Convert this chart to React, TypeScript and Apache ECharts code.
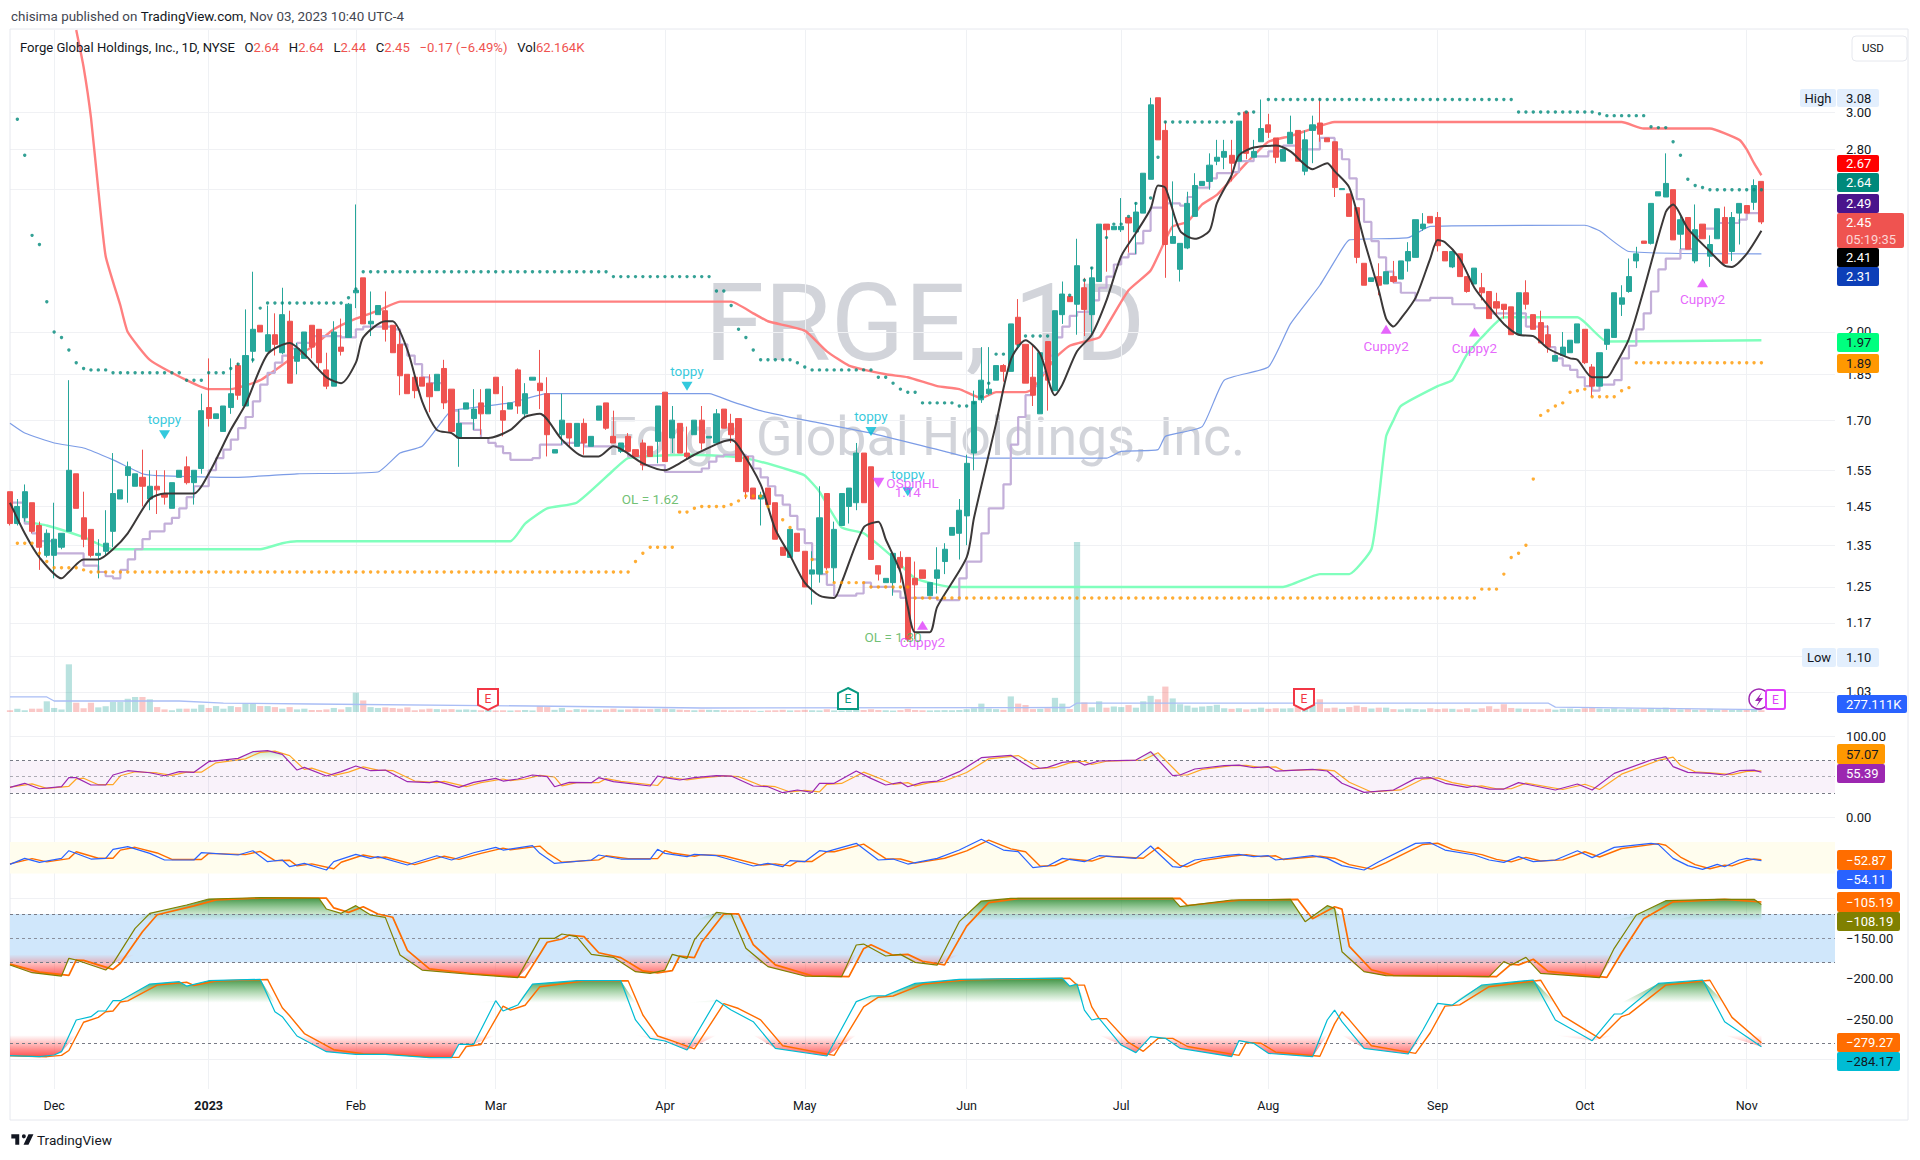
import React, { useEffect, useRef } from "react";
import * as echarts from "echarts";

// ---------- DATA ----------
// candles: [open, close, low, high], one per trading day
const candles: number[][] = [
[1.49,1.405,1.40,1.49],[1.405,1.45,1.40,1.47],[1.42,1.49,1.41,1.51],[1.46,1.385,1.38,1.46],[1.40,1.345,1.29,1.41],
[1.325,1.38,1.32,1.39],[1.325,1.365,1.27,1.46],[1.345,1.38,1.34,1.38],[1.385,1.55,1.385,1.83],[1.54,1.445,1.445,1.54],
[1.42,1.365,1.345,1.49],[1.39,1.325,1.32,1.39],[1.325,1.33,1.27,1.365],[1.335,1.355,1.325,1.44],[1.385,1.485,1.345,1.60],
[1.47,1.495,1.47,1.495],[1.535,1.56,1.46,1.575],[1.505,1.54,1.505,1.54],[1.53,1.505,1.45,1.61],[1.47,1.505,1.44,1.55],
[1.505,1.495,1.43,1.55],[1.485,1.475,1.455,1.55],[1.445,1.515,1.445,1.515],[1.53,1.55,1.53,1.55],[1.56,1.515,1.51,1.59],
[1.515,1.55,1.455,1.55],[1.555,1.73,1.54,1.785],[1.74,1.705,1.68,1.905],[1.705,1.72,1.705,1.72],[1.665,1.745,1.665,1.745],
[1.74,1.785,1.72,1.905],[1.88,1.78,1.765,1.89],[1.745,1.915,1.745,2.085],[1.93,2.01,1.89,2.235],[2.025,2.0,2.0,2.025],
[1.93,1.99,1.93,2.10],[1.99,1.955,1.915,2.07],[1.925,2.065,1.92,2.17],[2.04,1.82,1.82,2.08],[1.895,1.94,1.85,1.96],
[1.905,2.0,1.905,2.0],[2.025,1.945,1.905,2.025],[2.01,1.89,1.87,2.01],[1.865,1.81,1.80,1.925],[1.81,2.0,1.81,2.04],
[1.945,1.93,1.915,2.05],[1.98,2.105,1.98,2.11],[2.15,2.16,2.09,2.53],[2.21,2.03,2.03,2.21],[2.03,2.04,1.985,2.155],
[2.065,2.10,2.065,2.10],[2.08,2.01,1.965,2.155],[2.025,1.925,1.925,2.025],[1.955,1.845,1.78,2.01],[1.85,1.785,1.785,1.85],
[1.84,1.795,1.77,1.84],[1.84,1.81,1.81,1.84],[1.82,1.775,1.725,1.85],[1.795,1.85,1.795,1.85],[1.87,1.755,1.735,1.90],
[1.80,1.665,1.66,1.80],[1.645,1.69,1.56,1.735],[1.735,1.755,1.735,1.755],[1.705,1.735,1.67,1.80],[1.755,1.72,1.655,1.80],
[1.72,1.80,1.72,1.80],[1.84,1.785,1.785,1.84],[1.73,1.70,1.65,1.81],[1.735,1.755,1.735,1.755],[1.865,1.745,1.72,1.87],
[1.72,1.785,1.705,1.82],[1.83,1.84,1.83,1.84],[1.82,1.795,1.735,1.935],[1.785,1.655,1.59,1.84],[1.60,1.61,1.60,1.61],
[1.655,1.70,1.625,1.785],[1.69,1.645,1.62,1.69],[1.62,1.69,1.62,1.69],[1.69,1.63,1.595,1.705],[1.62,1.65,1.62,1.65],
[1.70,1.745,1.70,1.745],[1.755,1.675,1.67,1.755],[1.65,1.63,1.63,1.73],[1.605,1.63,1.60,1.63],[1.65,1.605,1.60,1.66],
[1.61,1.59,1.59,1.61],[1.63,1.565,1.55,1.64],[1.62,1.59,1.59,1.62],[1.635,1.745,1.57,1.745],[1.79,1.575,1.575,1.79],
[1.645,1.70,1.60,1.745],[1.69,1.60,1.60,1.69],[1.60,1.59,1.58,1.68],[1.655,1.70,1.655,1.70],[1.70,1.63,1.61,1.745],
[1.645,1.65,1.645,1.65],[1.63,1.72,1.63,1.735],[1.735,1.675,1.675,1.735],[1.69,1.655,1.63,1.72],[1.705,1.575,1.575,1.705],
[1.59,1.49,1.47,1.59],[1.50,1.47,1.47,1.50],[1.47,1.48,1.40,1.49],[1.50,1.455,1.45,1.50],[1.46,1.365,1.365,1.46],
[1.345,1.325,1.325,1.345],[1.32,1.39,1.32,1.39],[1.38,1.335,1.335,1.38],[1.335,1.25,1.25,1.335],[1.28,1.29,1.21,1.335],
[1.28,1.42,1.26,1.505],[1.485,1.295,1.29,1.485],[1.295,1.39,1.26,1.41],[1.40,1.485,1.40,1.485],[1.45,1.50,1.405,1.50],
[1.46,1.60,1.44,1.63],[1.60,1.46,1.46,1.60],[1.56,1.315,1.315,1.56],[1.30,1.28,1.265,1.30],[1.26,1.27,1.26,1.27],
[1.26,1.33,1.23,1.33],[1.32,1.295,1.26,1.335],[1.32,1.135,1.13,1.32],[1.27,1.255,1.135,1.31],[1.29,1.27,1.27,1.29],
[1.23,1.26,1.23,1.26],[1.27,1.29,1.235,1.345],[1.31,1.34,1.28,1.355],[1.375,1.395,1.375,1.395],[1.38,1.44,1.315,1.47],
[1.425,1.57,1.35,1.595],[1.60,1.76,1.55,1.795],[1.765,1.83,1.755,1.945],[1.785,1.80,1.78,1.945],[1.83,1.88,1.83,1.88],
[1.88,1.86,1.825,1.885],[1.86,2.03,1.86,2.03],[2.055,1.955,1.94,2.125],[1.955,1.82,1.82,1.955],[1.84,1.78,1.745,1.955],
[1.72,1.925,1.72,1.925],[1.965,1.83,1.73,1.965],[1.795,2.08,1.795,2.08],[2.065,2.145,2.03,2.195],[2.135,2.115,2.115,2.135],
[2.105,2.26,1.99,2.375],[2.17,2.085,1.985,2.21],[2.065,2.21,1.985,2.255],[2.195,2.44,2.195,2.44],[2.44,2.415,2.235,2.44],
[2.415,2.43,2.415,2.43],[2.415,2.43,2.405,2.56],[2.47,2.445,2.315,2.47],[2.405,2.495,2.31,2.54],[2.49,2.68,2.49,2.68],
[2.65,3.04,2.65,3.08],[3.08,2.85,2.85,3.08],[2.90,2.35,2.21,2.95],[2.355,2.385,2.355,2.64],[2.245,2.355,2.195,2.355],
[2.335,2.535,2.33,2.59],[2.475,2.62,2.475,2.68],[2.62,2.64,2.62,2.64],[2.64,2.72,2.60,2.78],[2.74,2.76,2.72,2.85],
[2.76,2.79,2.70,2.85],[2.77,2.73,2.64,2.85],[2.74,2.95,2.74,2.95],[3.00,2.78,2.75,3.00],[2.76,2.79,2.76,2.85],
[2.84,2.91,2.84,3.07],[2.93,2.89,2.86,2.99],[2.86,2.76,2.73,2.86],[2.74,2.80,2.74,2.80],[2.83,2.89,2.83,2.98],
[2.90,2.74,2.74,2.90],[2.69,2.85,2.67,2.90],[2.90,2.93,2.73,2.98],[2.94,2.88,2.84,3.08],[2.86,2.84,2.84,2.86],
[2.84,2.61,2.565,2.84],[2.60,2.605,2.60,2.605],[2.58,2.475,2.475,2.58],[2.515,2.295,2.27,2.515],[2.27,2.18,2.18,2.27],
[2.195,2.21,2.195,2.21],[2.215,2.18,2.14,2.27],[2.185,2.235,2.185,2.235],[2.215,2.195,2.19,2.28],[2.205,2.28,2.205,2.28],
[2.28,2.32,2.235,2.36],[2.295,2.46,2.295,2.46],[2.42,2.44,2.41,2.49],[2.475,2.445,2.445,2.475],[2.47,2.345,2.32,2.495],
[2.32,2.28,2.28,2.32],[2.255,2.32,2.25,2.32],[2.31,2.215,2.215,2.31],[2.215,2.155,2.15,2.215],[2.185,2.25,2.185,2.25],
[2.17,2.15,2.12,2.23],[2.155,2.05,2.05,2.155],[2.115,2.09,2.06,2.15],[2.105,2.085,2.05,2.105],[2.095,1.99,1.99,2.095],
[1.99,2.15,1.99,2.15],[2.15,2.105,2.085,2.20],[2.065,2.01,2.01,2.065],[2.035,1.96,1.96,2.08],[1.99,1.945,1.925,2.025],
[1.895,1.915,1.895,1.915],[1.915,1.945,1.915,2.0],[1.925,1.97,1.925,1.97],[1.96,2.03,1.96,2.03],[2.01,1.89,1.885,2.01],
[1.875,1.81,1.775,1.885],[1.81,1.925,1.81,1.925],[1.955,2.01,1.935,2.01],[1.98,2.15,1.98,2.15],[2.105,2.13,2.06,2.18],
[2.155,2.215,2.15,2.29],[2.28,2.31,2.25,2.34],[2.365,2.355,2.355,2.365],[2.355,2.535,2.35,2.535],[2.57,2.59,2.57,2.59],
[2.565,2.63,2.565,2.78],[2.60,2.37,2.37,2.60],[2.395,2.46,2.33,2.475],[2.47,2.33,2.33,2.47],[2.28,2.415,2.27,2.53],
[2.44,2.375,2.375,2.44],[2.30,2.35,2.255,2.39],[2.375,2.51,2.375,2.51],[2.47,2.27,2.27,2.52],[2.32,2.47,2.28,2.495],
[2.49,2.535,2.35,2.535],[2.525,2.49,2.49,2.525],[2.54,2.62,2.505,2.65],[2.64,2.45,2.44,2.64],
];

// volume in thousands, one per trading day
const volumes: number[] = [
60,115,60,115,115,370,140,90,1650,320,130,320,160,200,345,345,460,520,520,440,170,90,60,115,115,115,250,140,205,115,205,170,300,300,205,205,170,115,170,90,115,70,70,90,140,90,170,670,400,170,140,160,140,115,160,60,90,115,
100,90,100,80,90,75,60,70,55,60,50,60,70,55,205,170,75,140,60,100,90,80,75,90,115,80,90,115,90,100,110,115,100,80,70,60,80,75,70,65,55,60,60,50,40,55,60,75,55,60,75,60,55,95,55,50,60,85,70,95,70,60,50,65,110,70,60,55,60,65,60,70,95,
130,290,120,100,80,540,290,240,100,110,130,490,290,100,5880,330,160,370,150,190,170,240,150,370,560,440,880,470,270,220,150,190,210,250,130,110,130,90,110,150,110,
130,120,130,220,260,300,440,130,150,110,170,220,170,120,150,150,100,90,120,100,90,130,100,120,110,90,130,90,130,200,110,270,140,120,110,100,90,110,80,110,120,100,130,150,120,110,130,90,120,100,110,140,100,150,110,90,110,80,90,110,80,90,70,80,90,80,62,
];
const volumeMaPts = [[0,520],[5,520],[6,380],[23,380],[29,310],[41,277],[71,208],[94,138],[144,155],[145,310],[209,310],[210,170],[238,85]];

// moving averages: [trading-day index, price]
const redMaPts = [[9,3.49],[10,3.26],[11,2.97],[12,2.60],[13,2.30],[15,2.10],[16,2.00],[19,1.90],[24,1.83],[27,1.80],[30,1.80],[34,1.83],[38,1.90],[41,1.945],[44,2.01],[47,2.05],[50,2.08],[53,2.115],[98,2.115],[101,2.07],[103,2.04],[108,2.005],[111,1.93],[114,1.88],[119,1.85],[122,1.84],[126,1.81],[129,1.80],[132,1.77],[134,1.79],[138,1.79],[139,1.80],[142,1.905],[144,1.95],[148,1.98],[149,2.02],[152,2.16],[155,2.24],[157,2.37],[158,2.43],[160,2.45],[162,2.53],[164,2.575],[166,2.65],[168,2.73],[171,2.84],[174,2.87],[177,2.91],[180,2.945],[219,2.945],[222,2.91],[231,2.91],[235,2.85],[236,2.80],[237,2.73],[238,2.67]];
const blueMaPts = [[0,1.69],[2,1.66],[6,1.63],[10,1.615],[14,1.58],[18,1.54],[20,1.535],[31,1.53],[39,1.54],[50,1.545],[53,1.60],[56,1.62],[59,1.705],[60,1.73],[68,1.755],[73,1.785],[95,1.785],[98,1.76],[102,1.73],[108,1.70],[117,1.66],[127,1.605],[131,1.585],[149,1.585],[151,1.605],[156,1.61],[157,1.65],[162,1.68],[165,1.83],[171,1.875],[174,2.03],[178,2.18],[181,2.33],[182,2.37],[190,2.38],[193,2.43],[214,2.435],[216,2.41],[220,2.32],[238,2.31]];
const mintMaPts = [[2,1.41],[5,1.40],[10,1.37],[14,1.34],[34,1.34],[37,1.355],[39,1.36],[68,1.36],[70,1.405],[73,1.445],[77,1.46],[82,1.55],[84,1.585],[92,1.595],[98,1.59],[101,1.58],[106,1.55],[108,1.535],[110,1.49],[113,1.395],[116,1.38],[120,1.32],[123,1.27],[128,1.25],[173,1.25],[178,1.28],[182,1.28],[185,1.34],[186,1.47],[187,1.65],[188,1.70],[189,1.745],[194,1.81],[196,1.83],[198,1.92],[200,1.98],[203,2.055],[213,2.055],[217,1.965],[238,1.97]];
const blackPts = [[0,1.46],[2,1.38],[4,1.32],[7,1.27],[8,1.285],[10,1.315],[12,1.315],[14,1.34],[16,1.38],[19,1.47],[21,1.485],[25,1.485],[27,1.54],[30,1.67],[32,1.75],[35,1.92],[38,1.96],[40,1.92],[43,1.84],[45,1.82],[47,1.89],[48,1.98],[51,2.04],[52,2.04],[54,1.935],[56,1.76],[58,1.67],[60,1.66],[61,1.645],[65,1.645],[68,1.67],[70,1.71],[72,1.72],[75,1.64],[78,1.59],[80,1.59],[82,1.62],[86,1.57],[89,1.55],[91,1.57],[93,1.595],[98,1.64],[99,1.62],[102,1.51],[104,1.39],[106,1.325],[108,1.26],[110,1.23],[112,1.225],[113,1.26],[116,1.395],[118,1.41],[119,1.365],[121,1.285],[122,1.205],[123,1.15],[125,1.15],[126,1.205],[130,1.32],[131,1.42],[134,1.69],[136,1.90],[138,1.97],[140,1.92],[142,1.78],[143,1.815],[145,1.93],[147,1.99],[149,2.12],[151,2.30],[153,2.40],[155,2.51],[156,2.62],[157,2.61],[159,2.41],[161,2.375],[163,2.41],[164,2.535],[166,2.67],[167,2.77],[169,2.81],[172,2.82],[174,2.79],[177,2.70],[179,2.73],[180,2.69],[182,2.61],[184,2.37],[186,2.16],[187,2.05],[188,2.02],[189,2.05],[191,2.13],[193,2.29],[194,2.37],[195,2.36],[197,2.29],[199,2.17],[201,2.095],[203,2.03],[205,1.99],[207,1.985],[209,1.94],[212,1.905],[213,1.90],[215,1.84],[217,1.84],[218,1.875],[220,1.975],[222,2.16],[225,2.495],[226,2.53],[228,2.42],[231,2.32],[233,2.26],[234,2.255],[236,2.31],[238,2.41]];
const lilacPts = [[0,1.46],[2,1.405],[3,1.38],[4,1.36],[6,1.33],[10,1.30],[12,1.285],[13,1.275],[14,1.27],[15,1.29],[16,1.315],[17,1.34],[18,1.365],[19,1.385],[21,1.405],[22,1.42],[23,1.445],[24,1.475],[25,1.505],[27,1.55],[28,1.585],[29,1.61],[30,1.64],[31,1.675],[32,1.71],[33,1.76],[34,1.815],[35,1.855],[36,1.89],[37,1.915],[38,1.94],[39,1.96],[41,1.985],[45,1.98],[47,2.01],[48,2.02],[52,2.01],[53,1.955],[54,1.915],[55,1.885],[56,1.84],[57,1.82],[59,1.76],[60,1.73],[61,1.69],[63,1.67],[64,1.645],[65,1.63],[66,1.62],[67,1.60],[68,1.58],[71,1.585],[72,1.625],[75,1.63],[78,1.62],[84,1.59],[86,1.565],[89,1.545],[94,1.555],[95,1.575],[96,1.59],[97,1.595],[100,1.59],[101,1.555],[102,1.53],[103,1.505],[104,1.48],[105,1.455],[106,1.425],[107,1.39],[108,1.355],[109,1.315],[110,1.28],[111,1.255],[112,1.23],[115,1.235],[116,1.26],[117,1.25],[120,1.24],[121,1.225],[126,1.22],[129,1.27],[130,1.31],[132,1.38],[133,1.445],[135,1.51],[136,1.625],[137,1.71],[138,1.78],[139,1.81],[140,1.855],[141,1.915],[142,1.98],[143,2.02],[144,2.06],[145,2.075],[147,2.12],[148,2.17],[149,2.215],[150,2.265],[151,2.295],[152,2.31],[153,2.355],[154,2.41],[155,2.515],[157,2.535],[159,2.525],[160,2.565],[161,2.61],[163,2.655],[164,2.68],[166,2.685],[167,2.74],[169,2.765],[171,2.79],[173,2.82],[175,2.80],[178,2.86],[180,2.80],[181,2.75],[182,2.655],[183,2.555],[184,2.45],[185,2.365],[186,2.295],[187,2.235],[188,2.19],[189,2.15],[191,2.12],[193,2.13],[194,2.13],[196,2.105],[199,2.09],[201,2.07],[205,2.07],[206,2.02],[209,1.945],[210,1.905],[211,1.88],[212,1.865],[213,1.84],[214,1.81],[215,1.795],[216,1.815],[218,1.83],[219,1.905],[220,1.95],[221,2.01],[222,2.07],[223,2.155],[224,2.245],[225,2.29],[227,2.33],[229,2.385],[230,2.42],[232,2.445],[235,2.46],[236,2.49],[238,2.49]];

// stop dots: [first day, last day, price]
const tealRuns = [[1,1,2.96],[2,2,2.77],[3,3,2.39],[4,4,2.35],[5,5,2.115],[6,6,2.00],[7,7,1.98],[8,8,1.935],[9,9,1.89],[10,10,1.87],[11,13,1.865],[14,23,1.855],[24,26,1.83],[27,29,1.855],[30,30,1.87],[31,31,1.885],[33,33,1.90],[34,34,2.09],[35,45,2.11],[46,46,2.13],[47,47,2.165],[48,81,2.235],[82,95,2.215],[96,97,2.157],[98,98,2.10],[99,99,2.01],[100,100,1.98],[101,101,1.935],[102,106,1.90],[107,107,1.89],[108,108,1.875],[109,117,1.865],[118,119,1.84],[120,120,1.82],[121,121,1.80],[122,123,1.79],[124,128,1.755],[129,130,1.745],[131,131,1.755],[132,132,1.775],[133,133,1.82],[134,135,1.92],[137,137,1.95],[138,141,1.985],[144,144,2.14],[146,146,2.20],[147,147,2.25],[149,149,2.38],[150,151,2.44],[152,152,2.475],[153,153,2.535],[155,155,2.56],[156,156,2.76],[157,166,2.945],[167,167,2.99],[168,169,3.00],[171,204,3.07],[205,215,3.00],[216,216,2.99],[217,222,2.98],[223,223,2.92],[224,225,2.915],[226,226,2.84],[227,227,2.77],[228,228,2.65],[229,229,2.62],[230,230,2.61],[231,238,2.60]];
const orangeRuns = [[1,3,1.355],[4,4,1.33],[5,5,1.31],[6,9,1.295],[10,10,1.29],[11,84,1.285],[85,85,1.31],[86,86,1.33],[87,90,1.345],[91,92,1.435],[93,93,1.445],[94,97,1.45],[98,98,1.455],[99,99,1.465],[100,102,1.478],[103,103,1.45],[105,105,1.415],[106,106,1.395],[109,109,1.315],[111,111,1.285],[112,116,1.26],[117,122,1.25],[123,199,1.225],[200,202,1.245],[203,203,1.28],[204,204,1.32],[205,205,1.33],[206,206,1.35],[207,207,1.525],[208,208,1.715],[209,209,1.73],[210,210,1.745],[211,211,1.755],[212,212,1.79],[213,213,1.795],[214,214,1.80],[215,218,1.775],[219,219,1.795],[220,220,1.805],[221,238,1.89]];

// lower panes: [trading-day index, value]
const rsiPts = [[0,36.7],[2,41.7],[4,35],[7,37.5],[8,48.7],[9,48.7],[11,39.6],[13,39.6],[14,52],[16,57.3],[19,54.8],[21,51.1],[23,56.1],[25,55.3],[27,68.5],[31,72.6],[33,80.8],[35,82.1],[37,77.5],[39,58.1],[40,61.4],[43,50.7],[45,56.1],[47,63.1],[49,57.3],[51,58.1],[54,43.7],[57,42.5],[58,44.5],[61,36.7],[63,42.9],[66,47.8],[67,44.5],[69,47],[71,52],[73,49.9],[74,37.5],[76,42.9],[79,42.5],[80,48.7],[82,43.7],[87,38.4],[88,50.7],[89,48.7],[91,45.8],[93,48.7],[96,51.1],[98,50.7],[101,38.4],[103,37.5],[105,30.1],[107,33.4],[109,30.5],[110,41.7],[112,41.7],[115,56.9],[117,47.8],[119,39.6],[121,42.9],[122,37.5],[124,42.9],[126,44.5],[129,56.1],[132,73.4],[136,76.3],[139,59.4],[141,61.4],[143,67.6],[145,69.3],[146,64.3],[148,69.3],[153,70.5],[155,80.8],[158,51.1],[159,52],[161,59.4],[165,63.5],[167,64.3],[169,61],[171,62.3],[172,56.9],[177,59],[179,56.9],[181,41.7],[184,30.5],[188,33.4],[191,47.8],[193,48.7],[195,41.7],[198,36.7],[199,38.4],[201,34.6],[203,34.6],[205,42.5],[210,33.4],[213,40.8],[215,33.4],[218,54],[223,70.5],[225,74.7],[226,62.3],[228,55.3],[231,54],[233,52],[235,57.3],[237,58.1],[238,55.39]];
const rsiMaPts = [[0,37],[3,41],[5,35.5],[8,38],[9,47],[10,48],[12,40],[14,40],[15,51],[17,56],[20,54.5],[22,51.5],[24,55.5],[26,55.5],[28,67],[32,72],[34,80],[36,81.5],[38,76],[40,59],[41,60.5],[44,51.5],[46,55.5],[48,62],[50,58],[52,57.5],[55,44.5],[58,42.5],[59,44],[62,37.5],[64,42.5],[67,47],[68,45],[70,47],[72,51.5],[74,49.5],[75,38.5],[77,42.5],[80,42.5],[81,47.5],[83,44],[88,39],[89,49.5],[90,48.5],[92,46],[94,48.5],[97,51],[99,50],[102,39],[104,37.5],[106,31],[108,33],[110,31],[111,40.5],[113,41.5],[116,55.5],[118,48.5],[120,40.5],[122,42.5],[123,38.5],[125,42.5],[127,44.5],[130,55],[133,72],[137,76],[140,60],[142,61],[144,67],[146,69],[147,65],[149,69],[154,70.5],[156,79.5],[159,52],[160,52],[162,59],[166,63.5],[168,64],[170,61],[172,62],[173,57.5],[178,59],[180,57],[182,43],[185,31],[189,33.5],[192,47],[194,48.5],[196,42.5],[199,37.5],[200,38.5],[202,35],[204,35],[206,42],[211,34],[214,40.5],[216,34],[219,53],[224,70],[226,74],[227,64],[229,56],[232,54],[234,52.5],[236,56.5],[238,57.07]];
const wprPts = [[0,-58.6],[2,-51.2],[4,-56.1],[7,-51.2],[8,-41.7],[11,-52],[13,-51.2],[14,-40],[16,-36.7],[19,-45],[21,-53.2],[25,-53.2],[26,-44.2],[31,-47],[33,-41.7],[35,-55.3],[37,-53.2],[38,-61.5],[40,-57.4],[43,-65.6],[44,-55.3],[47,-46.2],[49,-51.2],[50,-49.1],[54,-59.4],[58,-47.9],[60,-53.2],[63,-44.2],[66,-37.6],[67,-40.9],[71,-35.5],[72,-45],[74,-57.4],[79,-53.2],[80,-47],[83,-52],[87,-52],[88,-40],[89,-45],[92,-49.1],[93,-46.2],[96,-47.9],[101,-60.6],[103,-57.4],[105,-61.5],[106,-54],[108,-55.3],[110,-41.7],[111,-42.9],[115,-32.6],[118,-53.2],[120,-52],[122,-58.2],[126,-51.2],[129,-40.9],[132,-27.6],[135,-40.9],[137,-42.9],[139,-62.7],[141,-60.6],[143,-51.2],[146,-55.3],[148,-47.9],[153,-51.2],[155,-35.9],[158,-61.5],[159,-62.3],[161,-53.2],[165,-47.9],[167,-46.2],[169,-49.1],[171,-47.9],[172,-53.2],[177,-47.9],[179,-51.2],[181,-60.2],[184,-65.6],[186,-55.3],[191,-32.6],[193,-31.8],[195,-40.9],[199,-47],[201,-53.2],[203,-56.1],[205,-49.1],[207,-55.3],[210,-53.2],[213,-41.7],[215,-50.3],[218,-37.6],[223,-32.6],[224,-33.8],[226,-51.2],[228,-60.2],[230,-64.8],[232,-58.6],[233,-61.5],[235,-53.2],[236,-51.2],[238,-54.11]];
const wprMaPts = [[0,-58],[3,-51.5],[5,-55.5],[8,-51.5],[9,-43],[12,-51],[14,-51],[15,-41],[17,-37.5],[20,-44.5],[22,-52.5],[26,-52.5],[27,-45],[32,-46.5],[34,-42.5],[36,-54],[38,-53.5],[39,-60.5],[41,-58],[44,-64],[45,-56],[48,-47],[50,-50.5],[51,-49.5],[55,-59],[59,-48.5],[61,-52.5],[64,-45],[67,-38.5],[68,-40.5],[72,-36],[73,-44],[75,-56],[80,-53],[81,-48],[84,-51.5],[88,-51.5],[89,-41.5],[90,-44.5],[93,-48.5],[94,-46.5],[97,-48],[102,-59.5],[104,-58],[106,-60.5],[107,-55],[109,-55],[111,-43],[112,-43],[116,-33.5],[119,-51.5],[121,-52],[123,-57],[127,-51],[130,-42],[133,-28.5],[136,-39.5],[138,-43],[140,-61],[142,-60],[144,-52],[147,-54.5],[149,-48.5],[154,-51],[156,-37.5],[159,-60],[160,-61.5],[162,-54],[166,-48.5],[168,-46.5],[170,-49],[172,-48],[173,-52.5],[178,-48.5],[180,-51],[182,-59],[185,-64.5],[187,-56.5],[192,-34],[194,-32.5],[196,-40],[200,-46.5],[202,-52.5],[204,-55.5],[206,-50],[208,-54.5],[211,-53],[214,-43],[216,-49.5],[219,-39],[224,-33],[225,-35],[227,-49.5],[229,-59],[231,-64],[233,-59.5],[234,-60.5],[236,-54],[237,-52],[238,-52.87]];
const oliveBandPts = [[0,-183.2],[3,-192.7],[7,-196.8],[8,-174.9],[9,-177],[13,-189.4],[14,-181.1],[17,-137.8],[19,-119.2],[24,-108.9],[27,-101.5],[34,-99.8],[42,-100.7],[43,-113.9],[45,-119.2],[47,-109.7],[49,-121.3],[51,-124.2],[53,-170.8],[56,-189.4],[62,-194.3],[69,-198.8],[72,-150.2],[74,-150.2],[75,-144.8],[77,-148.1],[79,-170],[82,-173.7],[85,-191.4],[87,-193.5],[89,-189.4],[90,-170],[92,-174.9],[93,-152.2],[96,-118],[98,-120],[100,-162.5],[103,-185.2],[108,-196.8],[113,-197.6],[115,-158.4],[116,-157.2],[119,-172],[121,-170],[123,-179.9],[126,-183.2],[129,-129.5],[132,-104],[136,-100.7],[158,-100.7],[159,-111],[166,-102.7],[174,-101.9],[176,-129.5],[179,-109.7],[180,-113],[181,-166.7],[184,-191.4],[187,-196.4],[201,-197.6],[203,-179],[204,-183.2],[206,-173.7],[208,-193.5],[216,-198.8],[218,-162.5],[221,-121.3],[225,-103.6],[232,-101.9],[237,-101.9],[238,-108.19]];
const oliveMaPts = [[0,-182],[4,-192],[8,-196],[9,-177],[10,-177.5],[14,-188.5],[15,-181],[18,-142],[20,-121],[25,-110],[28,-102.5],[35,-100],[43,-100.5],[44,-112.5],[46,-118],[48,-111],[50,-120],[52,-124],[54,-165],[57,-188],[63,-194],[70,-198.5],[73,-155],[75,-151],[76,-146],[78,-148],[80,-168],[83,-174],[86,-190.5],[88,-193],[90,-190],[91,-172],[93,-174],[94,-155],[97,-120],[99,-120],[101,-158],[104,-183],[109,-196.5],[114,-197.5],[116,-163],[117,-158],[120,-171],[122,-170],[124,-178.5],[127,-183],[130,-135],[133,-106],[137,-101],[159,-100.7],[160,-109.5],[167,-103],[175,-102],[177,-126],[180,-111],[181,-114],[182,-160],[185,-189],[188,-196],[202,-197.5],[204,-182],[205,-183],[207,-176],[209,-191],[217,-198.5],[219,-168],[222,-126],[226,-105],[233,-102],[238,-105.19]];
const cyanPts = [[0,-295.4],[4,-296.6],[6,-294.5],[7,-290.4],[9,-251.2],[11,-247.1],[12,-240.1],[13,-240.1],[14,-227.3],[15,-227.3],[19,-206.7],[23,-203.8],[24,-209.2],[27,-202.6],[34,-200.9],[36,-240.9],[37,-247.1],[39,-271],[43,-290.4],[47,-293.7],[51,-293.7],[57,-297.8],[60,-297.8],[61,-281.3],[63,-281.3],[66,-227.3],[67,-240.1],[69,-232.7],[71,-206.7],[77,-202.6],[83,-202.6],[85,-251.2],[87,-273.9],[89,-277.2],[92,-288.4],[96,-226.5],[98,-238.9],[101,-253.3],[104,-286.3],[111,-295.8],[115,-228.5],[117,-221.5],[119,-221.1],[123,-205.9],[129,-200.9],[143,-199.3],[144,-209.2],[145,-206.7],[146,-238.9],[147,-251.2],[148,-249.2],[151,-282.2],[153,-291.6],[155,-271.8],[157,-273.9],[159,-286.3],[166,-296.6],[167,-276.8],[169,-280.1],[171,-292.5],[177,-296.6],[179,-251.2],[180,-238.9],[181,-253.3],[184,-286.3],[190,-293.3],[192,-263.6],[194,-230.6],[196,-232.7],[200,-207.9],[207,-201.7],[210,-251.2],[215,-276.8],[218,-243.8],[219,-243.8],[224,-205.9],[230,-201.7],[233,-253.3],[238,-284.17]];
const cyanMaPts = [[0,-295.4],[5,-296.6],[7,-295],[8,-289],[10,-254],[12,-248],[13,-241],[14,-240],[15,-229],[16,-227.5],[20,-208],[24,-204.5],[25,-208.5],[28,-203],[35,-201],[37,-236],[38,-246],[40,-268],[44,-288],[48,-293],[52,-293.7],[58,-297.5],[61,-297.5],[62,-284],[64,-281.5],[67,-234],[68,-239],[70,-233],[72,-210],[78,-203],[84,-202.6],[86,-245],[88,-271],[90,-277],[93,-287],[97,-231],[99,-237],[102,-251],[105,-283],[112,-295],[116,-235],[118,-223],[120,-221.5],[124,-207],[130,-201.5],[144,-199.5],[145,-208],[146,-208],[147,-235],[148,-249.5],[149,-249.5],[152,-279],[154,-290],[156,-274],[158,-274],[160,-284],[167,-295],[168,-279],[170,-280],[172,-291],[178,-296],[180,-256],[181,-241],[182,-251],[185,-283],[191,-292.5],[193,-267],[195,-234],[197,-232.5],[201,-210],[208,-202],[211,-246],[216,-274],[219,-247],[220,-244],[225,-208],[231,-202],[234,-248],[238,-279.27]];

// axis ticks
const monthTicks: [number, string][] = [[6,"Dec"],[27,"2023"],[47,"Feb"],[66,"Mar"],[89,"Apr"],[108,"May"],[130,"Jun"],[151,"Jul"],[171,"Aug"],[194,"Sep"],[214,"Oct"],[236,"Nov"]];
const priceLineTicks = [3.0,2.8,2.6,2.0,1.85,1.7,1.55,1.45,1.35,1.25,1.17,1.1,1.03];
const priceLabelTicks = [3.0,2.8,2.0,1.85,1.7,1.55,1.45,1.35,1.25,1.17,1.03];
const lowerLabelTicks = [100,0,-150,-200,-250];
const lowerLineTicks = [100,0,-100,-300];
const categoryCount = 249;

// annotations: [day, price, text]
const toppyMarks: [number, number, string][] = [[21,1.655,"toppy"],[92,1.81,"toppy"],[117,1.665,"toppy"]];
const toppyBelow: [number, number, string][] = [[122,1.49,"toppy"]];
const cuppyMarks: [number, number, string][] = [[124,1.165,"Cuppy2"],[187,2.01,"Cuppy2"],[199,2.0,"Cuppy2"],[230,2.19,"Cuppy2"]];

// ---------- FIXED LAYOUT ----------
const FONT = "Roboto, 'Noto Sans', sans-serif";
const GRID_L = 10, GRID_W = 1825, MAIN_T = 30, MAIN_H = 682, SUB_T = 712, SUB_H = 377;
const PRICE_MIN = 0.9927, PRICE_MAX = 3.4897;
const VOL_MAX = 23600;
const LOWER_MAX = 129.95, LOWER_MIN = -336.6;
const lowerY = (v: number) => 817 - 0.808 * v;

echarts.graphic.registerShape("tvLogo", echarts.graphic.extendPath("M14 6H2v6h6v9h6V6zM28 21h-7.5L28 6h7.5zM24 9a3 3 0 1 1-6 0 3 3 0 0 1 6 0z", {}) as any);

const expandRuns = (runs: number[][]) => {
  const out: number[][] = [];
  runs.forEach(([a, b, p]) => { for (let i = a; i <= b; i++) out.push([i, p]); });
  return out;
};
const neg = (s: string) => s.replace("-", "\u2212");

function box(x0: number, x1: number, y0: number, y1: number, fill: string, text: string, color: string): any[] {
  return [
    { type: "rect", z: 50, shape: { x: x0, y: y0, width: x1 - x0, height: y1 - y0, r: 2 }, style: { fill } },
    { type: "text", z: 51, x: 1846, y: (y0 + y1) / 2, style: { text, fill: color, font: `13px ${FONT}`, verticalAlign: "middle" } },
  ];
}

function buildGraphics(): any[] {
  const g: any[] = [];
  // watermark
  g.push({ type: "text", z: 0, x: 925, y: 323, style: { text: "FRGE, 1D", fill: "#d2d4da", font: `108px ${FONT}`, align: "center", verticalAlign: "middle" } });
  g.push({ type: "text", z: 0, x: 926, y: 436, style: { text: "Forge Global Holdings, Inc.", fill: "#d2d4da", font: `53.7px ${FONT}`, align: "center", verticalAlign: "middle" } });
  // outer frame
  g.push({ type: "rect", z: 1, shape: { x: 10, y: 29, width: 1898, height: 1091 }, style: { fill: "none", stroke: "#e6e8ee", lineWidth: 1 } });
  // top line
  g.push({ type: "text", z: 60, x: 11, y: 16, style: {
    text: "{a|chisima published on }{b|TradingView.com}{a|, Nov 03, 2023 10:40 UTC-4}",
    verticalAlign: "middle",
    rich: { a: { fill: "#434651", font: `13.4px ${FONT}` }, b: { fill: "#131722", font: `13.4px ${FONT}` } },
  } });
  // legend
  g.push({ type: "text", z: 60, x: 20, y: 47, style: {
    text: "{k|Forge Global Holdings, Inc., 1D, NYSE   O}{v|2.64}{k|   H}{v|2.64}{k|   L}{v|2.44}{k|   C}{v|2.45}{v|   \u22120.17 (\u22126.49%)}{k|   Vol}{v|62.164K}",
    verticalAlign: "middle",
    rich: { k: { fill: "#131722", font: `13.1px ${FONT}` }, v: { fill: "#ef5350", font: `13.1px ${FONT}` } },
  } });
  // USD button
  g.push({ type: "rect", z: 60, shape: { x: 1852, y: 36, width: 55, height: 25, r: 4 }, style: { fill: "#fff", stroke: "#e6e8ee" } });
  g.push({ type: "text", z: 61, x: 1873, y: 48, style: { text: "USD", fill: "#131722", font: `11.5px ${FONT}`, align: "center", verticalAlign: "middle" } });
  // footer
  g.push({ type: "tvLogo", z: 60, x: 10, y: 1130, scaleX: 0.66, scaleY: 0.7, style: { fill: "#131722" } });
  g.push({ type: "text", z: 60, x: 37, y: 1140, style: { text: "TradingView", fill: "#131722", font: `13.6px ${FONT}`, verticalAlign: "middle" } });
  // high / low
  g.push({ type: "rect", z: 50, shape: { x: 1800, y: 89, width: 36, height: 18, r: 2 }, style: { fill: "#e3effd" } });
  g.push({ type: "text", z: 51, x: 1818, y: 98, style: { text: "High", fill: "#131722", font: `13px ${FONT}`, align: "center", verticalAlign: "middle" } });
  g.push({ type: "rect", z: 50, shape: { x: 1802, y: 648, width: 34, height: 19, r: 2 }, style: { fill: "#e3effd" } });
  g.push({ type: "text", z: 51, x: 1819, y: 657, style: { text: "Low", fill: "#131722", font: `13px ${FONT}`, align: "center", verticalAlign: "middle" } });
  g.push(...box(1837, 1879, 89, 107, "#e3effd", "3.08", "#131722"));
  g.push(...box(1837, 1879, 648, 667, "#e3effd", "1.10", "#131722"));
  // last value boxes
  g.push(...box(1837, 1879, 155, 172, "#ff0000", "2.67", "#ffffff"));
  g.push(...box(1837, 1879, 173, 192, "#00897b", "2.64", "#ffffff"));
  g.push(...box(1837, 1879, 194, 213, "#4a148c", "2.49", "#ffffff"));
  g.push({ type: "rect", z: 50, shape: { x: 1837, y: 213, width: 67, height: 35, r: 2 }, style: { fill: "#ef5350" } });
  g.push({ type: "text", z: 51, x: 1846, y: 222, style: { text: "2.45", fill: "#ffffff", font: `13px ${FONT}`, verticalAlign: "middle" } });
  g.push({ type: "text", z: 51, x: 1846, y: 239, style: { text: "05:19:35", fill: "#fcd5d4", font: `13px ${FONT}`, verticalAlign: "middle" } });
  g.push(...box(1837, 1879, 248, 267, "#000000", "2.41", "#ffffff"));
  g.push(...box(1837, 1879, 267, 286, "#0d3fb8", "2.31", "#ffffff"));
  g.push(...box(1837, 1879, 333, 352, "#00ff7f", "1.97", "#131722"));
  g.push(...box(1837, 1879, 354, 373, "#ff9800", "1.89", "#131722"));
  g.push(...box(1837, 1907, 695, 713, "#2962ff", "277.111K", "#ffffff"));
  g.push(...box(1837, 1885, 744, 764, "#ff9800", "57.07", "#131722"));
  g.push(...box(1837, 1885, 764, 783, "#9c27b0", "55.39", "#ffffff"));
  g.push(...box(1837, 1892, 850, 870, "#ff6d00", neg("-52.87"), "#ffffff"));
  g.push(...box(1837, 1892, 870, 889, "#2962ff", neg("-54.11"), "#ffffff"));
  g.push(...box(1837, 1900, 892, 912, "#ff6d00", neg("-105.19"), "#ffffff"));
  g.push(...box(1837, 1900, 912, 931, "#808000", neg("-108.19"), "#ffffff"));
  g.push(...box(1837, 1900, 1033, 1052, "#ff6d00", neg("-279.27"), "#ffffff"));
  g.push(...box(1837, 1900, 1052, 1071, "#00bcd4", neg("-284.17"), "#131722"));
  // earnings badges
  const badge = (x: number, pts: number[][], c: string) => {
    g.push({ type: "polygon", z: 40, shape: { points: pts.map(([a, b]) => [x + a, 699 + b]) }, style: { fill: "#fff", stroke: c, lineWidth: 2 } });
    g.push({ type: "text", z: 41, x, y: 699, style: { text: "E", fill: c, font: `12px ${FONT}`, align: "center", verticalAlign: "middle" } });
  };
  const shield = [[-10,-10],[10,-10],[10,6],[0,11],[-10,6]];
  const hexa = [[0,-11],[10,-6],[10,10],[-10,10],[-10,-6]];
  badge(488, shield, "#f23645");
  badge(848, hexa, "#089981");
  badge(1304, shield, "#f23645");
  g.push({ type: "circle", z: 40, shape: { cx: 1759, cy: 699, r: 10 }, style: { fill: "#fff", stroke: "#9c27b0", lineWidth: 1.5 } });
  g.push({ type: "polygon", z: 41, shape: { points: [[1762,692],[1755,701],[1759,701],[1756,707],[1763,698],[1759,698]] }, style: { fill: "#9c27b0" } });
  g.push({ type: "rect", z: 42, shape: { x: 1766, y: 690, width: 19, height: 19, r: 2 }, style: { fill: "#fff", stroke: "#e040fb", lineWidth: 2 } });
  g.push({ type: "text", z: 43, x: 1775.5, y: 699.5, style: { text: "E", fill: "#e040fb", font: `12px ${FONT}`, align: "center", verticalAlign: "middle" } });
  return g;
}

const linePrice = (name: string, data: number[][], color: string, width: number, extra: any = {}) => ({
  name, type: "line", xAxisIndex: 0, yAxisIndex: 0, data, showSymbol: false, symbol: "none", silent: true,
  lineStyle: { color, width }, z: 4, ...extra,
});
const lineLow = (name: string, data: number[][], color: string, width: number, extra: any = {}) => ({
  name, type: "line", xAxisIndex: 1, yAxisIndex: 3, data, showSymbol: false, symbol: "none", silent: true,
  lineStyle: { color, width }, z: 5, ...extra,
});
const fillArea = (name: string, pts: number[][], th: number, above: boolean, yA: number, yB: number, cA: string, cB: string) => ({
  name, type: "line", xAxisIndex: 1, yAxisIndex: 3, showSymbol: false, symbol: "none", silent: true, z: 3,
  data: pts.map(([i, v]) => [i, above ? Math.max(v, th) : Math.min(v, th)]),
  lineStyle: { width: 0, opacity: 0 },
  areaStyle: { origin: th, opacity: 1, color: new echarts.graphic.LinearGradient(0, yA, 0, yB, [{ offset: 0, color: cA }, { offset: 1, color: cB }], true) },
});
const dashLines = (vals: [number, string][]) => ({
  silent: true, symbol: "none", animation: false, label: { show: false },
  data: vals.map(([yAxis, color]) => ({ yAxis, lineStyle: { color, type: [3, 3], width: 1 } })),
});
const annotate = (name: string, marks: [number, number, string][], color: string, rotate: number, pos: string, dist: number) => ({
  name, type: "scatter", xAxisIndex: 0, yAxisIndex: 0, z: 8, silent: true,
  symbol: "triangle", symbolSize: [11, 9], symbolRotate: rotate,
  itemStyle: { color },
  data: marks.map(([i, p, t]) => ({ value: [i, p], label: { show: true, formatter: t, position: pos, distance: dist, color, fontSize: 13.5, fontFamily: FONT } })),
});

export default function App() {
  const ref = useRef<HTMLDivElement>(null);
  useEffect(() => {
    if (!ref.current) return;
    const chart = echarts.init(ref.current, undefined, { renderer: "svg" });
    const categories = Array.from({ length: categoryCount }, (_, i) => String(i));
    const monthMap = new Map(monthTicks);
    const isMonth = (i: number) => monthMap.has(i);
    const splitX = { show: true, interval: isMonth, lineStyle: { color: "#eff1f4", width: 1 } };
    const logLines = priceLineTicks.map((p) => Math.log10(p));
    const logLabels = priceLabelTicks.map((p) => Math.log10(p));
    const volItems = volumes.map((v, i) => ({
      value: v,
      itemStyle: { color: candles[i] && candles[i][1] >= candles[i][0] ? "rgba(38,166,154,0.32)" : "rgba(239,83,80,0.32)" },
    }));

    chart.setOption({
      animation: false,
      backgroundColor: "#ffffff",
      textStyle: { fontFamily: FONT },
      grid: [
        { left: GRID_L, top: MAIN_T, width: GRID_W, height: MAIN_H, show: false },
        { left: GRID_L, top: SUB_T, width: GRID_W, height: SUB_H, show: false },
      ],
      xAxis: [
        { type: "category", gridIndex: 0, data: categories, boundaryGap: false, axisLine: { show: false }, axisTick: { show: false }, axisLabel: { show: false }, splitLine: splitX },
        {
          type: "category", gridIndex: 1, data: categories, boundaryGap: false, axisLine: { show: false }, axisTick: { show: false }, splitLine: splitX,
          axisLabel: {
            interval: (i: number) => isMonth(i), margin: 10, color: "#131722", fontSize: 12.5, fontFamily: FONT, hideOverlap: false,
            formatter: (_: string, i: number) => { const s = monthMap.get(i) || ""; return s === "2023" ? `{b|${s}}` : s; },
            rich: { b: { fontWeight: 700, fontSize: 12.5, color: "#131722", fontFamily: FONT } },
          },
        },
      ],
      yAxis: [
        { type: "log", gridIndex: 0, min: PRICE_MIN, max: PRICE_MAX, show: false, splitLine: { show: false } },
        {
          type: "value", gridIndex: 0, position: "right", min: Math.log10(PRICE_MIN), max: Math.log10(PRICE_MAX), scale: true,
          axisLine: { show: false }, axisTick: { show: false, customValues: logLines },
          axisLabel: { customValues: logLabels, margin: 11, color: "#131722", fontSize: 13, fontFamily: FONT, formatter: (v: number) => Math.pow(10, v).toFixed(2) },
          splitLine: { show: true, lineStyle: { color: "#f0f1f4", width: 1 } },
        },
        { type: "value", gridIndex: 0, min: 0, max: VOL_MAX, show: false, splitLine: { show: false } },
        {
          type: "value", gridIndex: 1, position: "right", min: LOWER_MIN, max: LOWER_MAX,
          axisLine: { show: false }, axisTick: { show: false, customValues: lowerLineTicks },
          axisLabel: { customValues: lowerLabelTicks, margin: 11, color: "#131722", fontSize: 13, fontFamily: FONT, formatter: (v: number) => neg(v.toFixed(2)) },
          splitLine: { show: true, lineStyle: { color: "#f0f1f4", width: 1 } },
        },
      ],
      series: [
        // label axis needs a series so it stays attached
        { name: "priceScale", type: "line", xAxisIndex: 0, yAxisIndex: 1, data: [], silent: true },
        { name: "Volume", type: "bar", xAxisIndex: 0, yAxisIndex: 2, data: volItems, barWidth: 6.2, silent: true, z: 2 },
        { name: "Volume MA", type: "line", xAxisIndex: 0, yAxisIndex: 2, data: volumeMaPts, showSymbol: false, symbol: "none", silent: true, lineStyle: { color: "#a9bdf5", width: 1.3 }, z: 3 },
        linePrice("MA blue", blueMaPts, "#7c9ce6", 1.2, { smooth: 0.15 }),
        linePrice("MA mint", mintMaPts, "#80ffbd", 2.4, { smooth: 0.15 }),
        linePrice("MA red", redMaPts, "#ff8080", 2.4, { smooth: 0.15 }),
        linePrice("Step", lilacPts, "#c3afd9", 2.2, { step: "end" }),
        {
          name: "FRGE", type: "candlestick", xAxisIndex: 0, yAxisIndex: 0, data: candles, barWidth: 5.6, silent: true, z: 5,
          itemStyle: { color: "#26a69a", color0: "#ef5350", borderColor: "#26a69a", borderColor0: "#ef5350", borderWidth: 1 },
        },
        linePrice("MA black", blackPts, "#3b3838", 2, { smooth: 0.25, z: 6 }),
        { name: "Stop up", type: "scatter", xAxisIndex: 0, yAxisIndex: 0, data: expandRuns(tealRuns), symbol: "circle", symbolSize: 3.4, silent: true, itemStyle: { color: "#00897b" }, z: 7 },
        { name: "Stop down", type: "scatter", xAxisIndex: 0, yAxisIndex: 0, data: expandRuns(orangeRuns), symbol: "circle", symbolSize: 3.4, silent: true, itemStyle: { color: "#ff9800" }, z: 7 },
        annotate("toppy", toppyMarks, "#00bcd4", 180, "top", 4),
        annotate("toppy2", toppyBelow, "#00bcd4", 180, "top", 6),
        annotate("Cuppy2", cuppyMarks, "#e040fb", 0, "bottom", 5),
        {
          name: "Spin", type: "scatter", xAxisIndex: 0, yAxisIndex: 0, z: 8, silent: true, symbol: "triangle", symbolSize: [12, 10], symbolRotate: 180,
          itemStyle: { color: "#e040fb" },
          data: [{ value: [118, 1.515], label: { show: true, position: "right", distance: 2, formatter: "OSpinHL", color: "#e040fb", fontSize: 13.5, fontFamily: FONT } }],
        },
        {
          name: "Spin value", type: "scatter", xAxisIndex: 0, yAxisIndex: 0, z: 8, silent: true, symbolSize: 0,
          data: [{ value: [122, 1.49], label: { show: true, position: "inside", formatter: "1.14", color: "#e040fb", fontSize: 13.5, fontFamily: FONT } }],
        },
        {
          name: "OL", type: "scatter", xAxisIndex: 0, yAxisIndex: 0, z: 8, silent: true, symbolSize: 0,
          data: [
            { value: [87, 1.47], label: { show: true, position: "inside", formatter: "OL = 1.62", color: "#4caf50", fontSize: 13.5, fontFamily: FONT } },
            { value: [120, 1.14], label: { show: true, position: "inside", formatter: "OL = 1.30", color: "#4caf50", fontSize: 13.5, fontFamily: FONT } },
          ],
        },
        // RSI pane
        lineLow("RSI MA", rsiMaPts, "#ffa726", 1.2, {
          z: 4,
          markArea: { silent: true, itemStyle: { color: "rgba(156,39,176,0.06)" }, data: [[{ yAxis: 30 }, { yAxis: 70 }]] },
          markLine: dashLines([[70, "#787b86"], [50, "rgba(120,123,134,0.6)"], [30, "#787b86"]]),
        }),
        fillArea("RSI fill", rsiPts, 70, true, lowerY(84), lowerY(70), "rgba(76,175,80,0.35)", "rgba(76,175,80,0)"),
        lineLow("RSI", rsiPts, "#9c27b0", 1.2),
        // Williams pane
        lineLow("WPR MA", wprMaPts, "#ff6d00", 1.4, {
          z: 4,
          markArea: { silent: true, itemStyle: { color: "#fffdee" }, data: [[{ yAxis: -31 }, { yAxis: -70 }]] },
        }),
        lineLow("WPR", wprPts, "#2962ff", 1.2),
        // Band pane
        lineLow("Band MA", oliveMaPts, "#ff6d00", 1.7, {
          z: 5,
          markArea: { silent: true, z: 1, itemStyle: { color: "#d0e7fb" }, data: [[{ yAxis: -120 }, { yAxis: -180 }]] },
          markLine: dashLines([[-120, "#787b86"], [-150, "rgba(120,123,134,0.8)"], [-180, "#787b86"]]),
        }),
        fillArea("Band up", oliveBandPts, -128, true, lowerY(-100), lowerY(-128), "rgba(56,142,60,0.95)", "rgba(76,175,80,0)"),
        fillArea("Band down", oliveBandPts, -170, false, lowerY(-200), lowerY(-170), "rgba(255,72,72,1)", "rgba(255,82,82,0)"),
        lineLow("Band", oliveBandPts, "#808000", 1.2),
        // Fourth pane
        lineLow("Fast MA", cyanMaPts, "#ff6d00", 1.4, {
          z: 5,
          markLine: dashLines([[-280, "#787b86"]]),
        }),
        fillArea("Fast up", cyanPts, -230, true, lowerY(-200), lowerY(-230), "rgba(56,142,60,0.95)", "rgba(76,175,80,0)"),
        fillArea("Fast down", cyanPts, -270, false, lowerY(-298), lowerY(-270), "rgba(255,72,72,1)", "rgba(255,82,82,0)"),
        lineLow("Fast", cyanPts, "#00bcd4", 1.2),
      ],
      graphic: { elements: buildGraphics() },
    });
    return () => chart.dispose();
  }, []);
  return <div ref={ref} style={{ position: "fixed", left: 0, top: 0, width: 1920, height: 1160, background: "#fff" }} />;
}
